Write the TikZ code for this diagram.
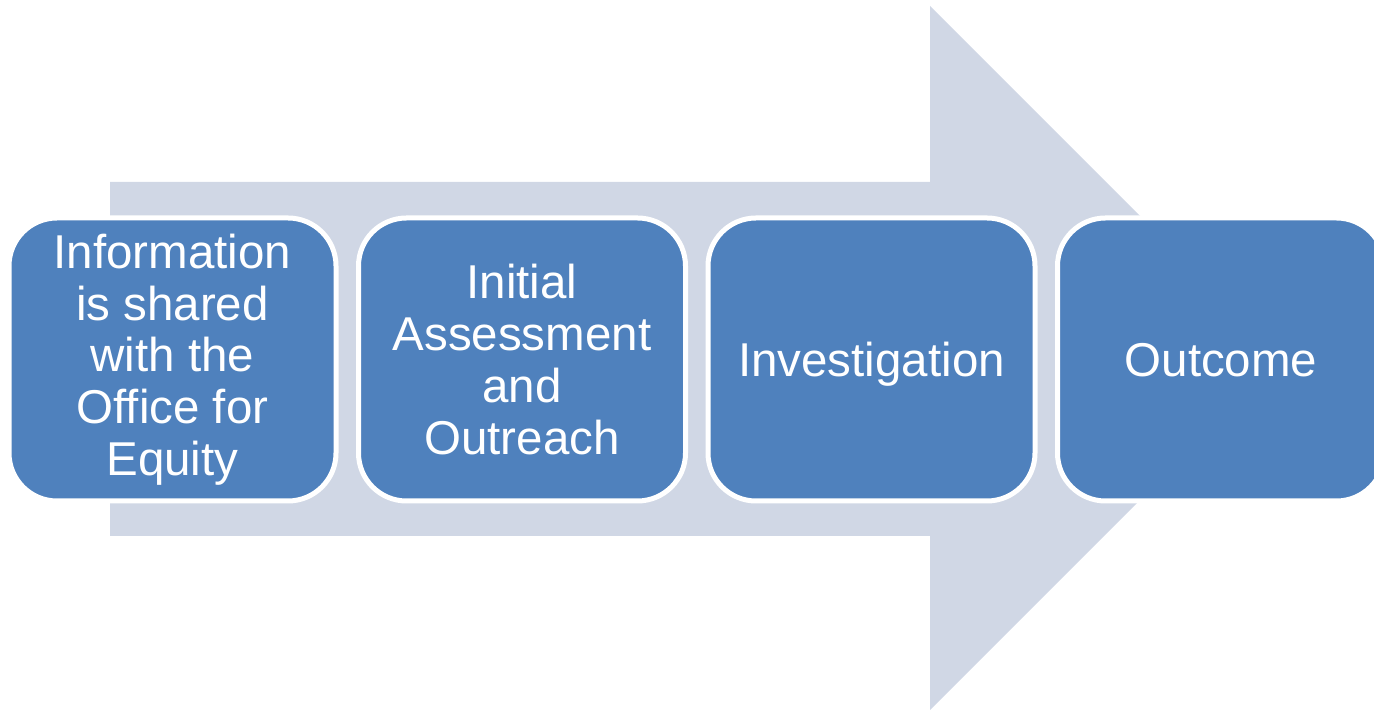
\documentclass[tikz,border=0pt]{standalone}
\usepackage{fontspec}
\setmainfont{Liberation Sans}
\definecolor{arrowfill}{RGB}{208,215,229}
\definecolor{stepblue}{RGB}{79,129,189}
\begin{document}
\begin{tikzpicture}[x=1pt,y=1pt,
  stepbox/.style={rectangle, rounded corners=48pt, fill=stepblue, draw=white,
    line width=5pt, minimum width=327pt, minimum height=283pt, inner sep=0pt,
    text=white, align=center,
    font=\fontsize{47.5}{51.75}\selectfont},
  oneline/.style={text height=34pt, text depth=0pt}]
  \useasboundingbox (0,0) rectangle (1374,711);
  \clip (0,0) rectangle (1374,711);
  % background process arrow
  \fill[arrowfill] (110,529) -- (930,529) -- (930,705) -- (1282,353)
    -- (930,1) -- (930,175) -- (110,175) -- cycle;
  % process steps
  \node[stepbox] (s1) at (172.5,351.5) {Information\\is shared\\with the\\Office for\\Equity};
  \node[stepbox] (s2) at (522,351.5) {Initial\\Assessment\\and\\Outreach};
  \node[stepbox, oneline] (s3) at (871.5,351.5) {Investigation};
  \node[stepbox, oneline] (s4) at (1221,351.5) {Outcome};
\end{tikzpicture}
\end{document}
